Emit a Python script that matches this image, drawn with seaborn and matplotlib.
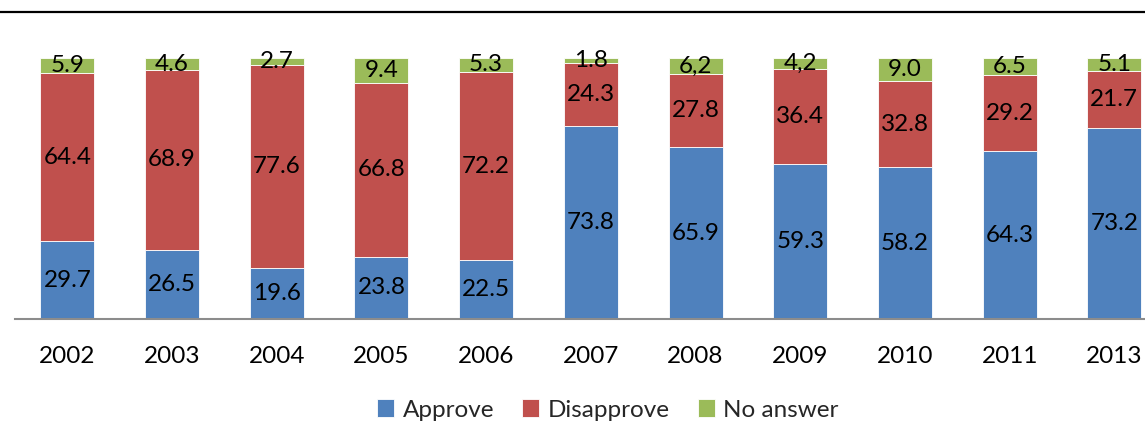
import matplotlib
matplotlib.use("Agg")
import matplotlib.pyplot as plt
from matplotlib.lines import Line2D
import seaborn as sns
import pandas as pd

years = ["2002", "2003", "2004", "2005", "2006", "2007", "2008", "2009", "2010", "2011", "2013"]
approve = [29.7, 26.5, 19.6, 23.8, 22.5, 73.8, 65.9, 59.3, 58.2, 64.3, 73.2]
disapprove = [64.4, 68.9, 77.6, 66.8, 72.2, 24.3, 27.8, 36.4, 32.8, 29.2, 21.7]
no_answer = [5.9, 4.6, 2.7, 9.4, 5.3, 1.8, 6.2, 4.2, 9.0, 6.5, 5.1]
no_answer_labels = ["5.9", "4.6", "2.7", "9.4", "5.3", "1.8", "6,2", "4,2", "9.0", "6.5", "5.1"]
series_names = ["Approve", "Disapprove", "No answer"]
colors = ["#4F81BD", "#C0504D", "#9BBB59"]

sns.set_theme(style="white")
plt.rcParams["font.family"] = ["Lato", "DejaVu Sans"]

fig = plt.figure(figsize=(11.45, 4.21), dpi=100)
ax = fig.add_axes([15 / 1145, 102 / 421, 1151.7 / 1145, (319 - 58) / 421])

df = pd.DataFrame({"year": years, "Approve": approve, "Disapprove": disapprove, "No answer": no_answer})
df["b1"] = df["Approve"]
df["b2"] = df["Approve"] + df["Disapprove"]

bw = 0.515
sns.barplot(data=df, x="year", y="Approve", color=colors[0], saturation=1, width=bw,
            edgecolor="white", linewidth=0.6, ax=ax, label=series_names[0])
sns.barplot(data=df, x="year", y="Disapprove", bottom=df["b1"], color=colors[1], saturation=1,
            width=bw, edgecolor="white", linewidth=0.6, ax=ax, label=series_names[1])
sns.barplot(data=df, x="year", y="No answer", bottom=df["b2"], color=colors[2], saturation=1,
            width=bw, edgecolor="white", linewidth=0.6, ax=ax, label=series_names[2])

fs = 17.5
for i in range(len(years)):
    ax.text(i, approve[i] / 2, f"{approve[i]:.1f}", ha="center", va="center", fontsize=fs, color="black")
    ax.text(i, approve[i] + disapprove[i] / 2, f"{disapprove[i]:.1f}", ha="center", va="center",
            fontsize=fs, color="black")
    ax.text(i, approve[i] + disapprove[i] + no_answer[i] / 2, no_answer_labels[i], ha="center",
            va="center", fontsize=fs, color="black")

ax.set_xlim(-0.5, len(years) - 0.5)
ax.set_ylim(0, 100)
ax.set_xlabel("")
ax.set_ylabel("")
ax.set_yticks([])
for s in ["top", "right", "left"]:
    ax.spines[s].set_visible(False)
ax.spines["bottom"].set_color("#8c8c8c")
ax.spines["bottom"].set_linewidth(1.5)
ax.tick_params(axis="x", length=0, pad=19.5, labelsize=fs, colors="black")
ax.set_facecolor("white")

handles, labels = ax.get_legend_handles_labels()
ax.legend(handles[:3], labels[:3], loc="center", bbox_to_anchor=(608 / 1145, 11 / 421),
          bbox_transform=fig.transFigure, ncol=3, frameon=False, fontsize=fs,
          handlelength=0.7, handleheight=0.7, handletextpad=0.35, columnspacing=1.15)

fig.add_artist(Line2D([0, 1], [1 - 12 / 421, 1 - 12 / 421], transform=fig.transFigure,
                      color="black", linewidth=1.6))

fig.savefig("out.png", dpi=100, facecolor="white")
